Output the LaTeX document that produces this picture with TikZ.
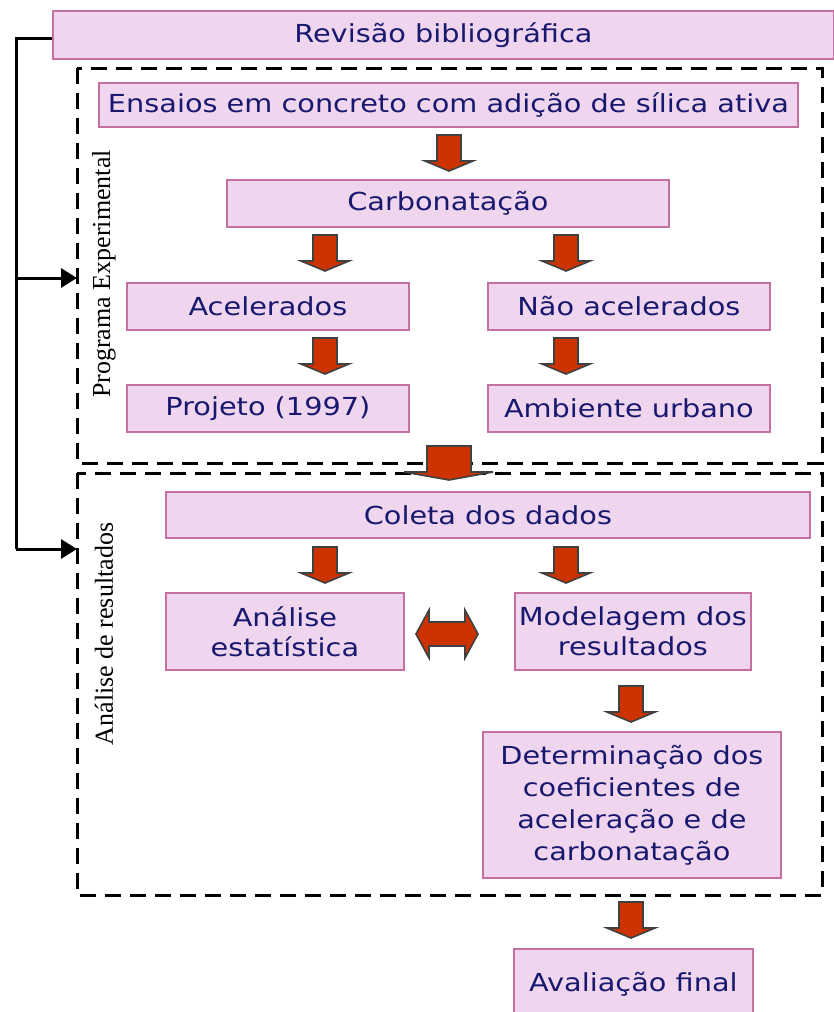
\documentclass[tikz,border=0pt]{standalone}
\usepackage{fontspec}
\setmainfont{Liberation Serif}
\newfontfamily\boxfont[FakeStretch=1.16]{DejaVu Sans}
\usetikzlibrary{arrows.meta}
\definecolor{boxfill}{RGB}{239,214,238}
\definecolor{boxline}{RGB}{196,112,160}
\definecolor{boxtext}{RGB}{24,24,110}
\definecolor{arrfill}{RGB}{204,51,0}
\definecolor{arrline}{RGB}{64,64,64}
\tikzset{
  pbox/.style={draw=boxline, fill=boxfill, line width=1.8pt, text=boxtext,
    font=\boxfont\fontsize{24.8}{32}\selectfont, align=center, inner sep=0pt, anchor=north west},
  frame/.style={draw=black, line width=3pt, dash pattern=on 16pt off 9pt},
  blockarr/.style={fill=arrfill, draw=arrline, line width=1.6pt, line join=miter},
  brk/.style={draw=black, line width=3pt},
  brkarr/.style={brk, -{Triangle[length=16pt,width=19pt]}},
  vlabel/.style={rotate=90, font=\fontsize{26}{30}\selectfont, inner sep=0pt}
}
% down block arrow: center x, top y
\newcommand{\dnarr}[2]{%
  \draw[blockarr] (#1-12,#2) -- (#1+12,#2) -- (#1+12,#2+26) -- (#1+24,#2+26)
    -- (#1,#2+36) -- (#1-24,#2+26) -- (#1-12,#2+26) -- cycle;}
\begin{document}
\begin{tikzpicture}[x=1pt,y=-1pt]
\useasboundingbox (0,0) rectangle (833,1012);
% frames
\draw[frame] (77,68) rectangle (822,463);
\draw[frame] (77,473) rectangle (822,895);
% boxes
\node[pbox, minimum width=781pt, minimum height=48pt] (rev) at (52,10) {Revisão bibliográfica};
\node[pbox, minimum width=699pt, minimum height=44pt] (ens) at (98,82) {Ensaios em concreto com adição de sílica ativa};
\node[pbox, minimum width=442pt, minimum height=47pt] (carb) at (226,179) {Carbonatação};
\node[pbox, minimum width=282pt, minimum height=47pt] (acel) at (126,282) {Acelerados};
\node[pbox, minimum width=282pt, minimum height=47pt] (nacel) at (487,282) {Não acelerados};
\node[pbox, minimum width=282pt, minimum height=47pt] (proj) at (126,384) {Projeto (1997)};
\node[pbox, minimum width=282pt, minimum height=47pt] (amb) at (487,384) {Ambiente urbano};
\node[pbox, minimum width=644pt, minimum height=46pt] (col) at (165,491) {Coleta dos dados};
\node[pbox, minimum width=238pt, minimum height=77pt] (ana) at (165,592) {Análise\\[-2pt]estatística};
\node[pbox, minimum width=236pt, minimum height=77pt] (mod) at (514,592) {Modelagem dos\\[-2pt]resultados};
\node[pbox, minimum width=298pt, minimum height=146pt] (det) at (482,731) {Determinação dos\\coeficientes de\\aceleração e de\\carbonatação};
\node[pbox, minimum width=239pt, minimum height=70pt] (aval) at (513,948) {Avaliação final};
% vertical labels
\node[vlabel] (lpe) at (104,274) {Programa Experimental};
\node[vlabel] (lar) at (104,634) {Análise de resultados};
% block arrows
\dnarr{449}{135}
\dnarr{325}{235}
\dnarr{566}{235}
\dnarr{325}{338}
\dnarr{566}{338}
\draw[blockarr] (427,446) -- (471,446) -- (471,472) -- (493,472) -- (449,480)
  -- (404,472) -- (427,472) -- cycle;
\dnarr{325}{547}
\dnarr{566}{547}
\dnarr{631}{686}
\dnarr{631}{902}
\draw[blockarr] (416,634) -- (429,610) -- (429,622) -- (465,622) -- (465,610)
  -- (478,634) -- (465,658) -- (465,646) -- (429,646) -- (429,658) -- cycle;
% bracket
\coordinate (bt) at (16,38);
\coordinate (b1) at (16,278);
\coordinate (b2) at (16,549);
\draw[brk] (rev.west |- bt) -- (bt) -- (b2);
\draw[brkarr] (b1) -- (77,278);
\draw[brkarr] (b2) -- (77,549);
\end{tikzpicture}
\end{document}
